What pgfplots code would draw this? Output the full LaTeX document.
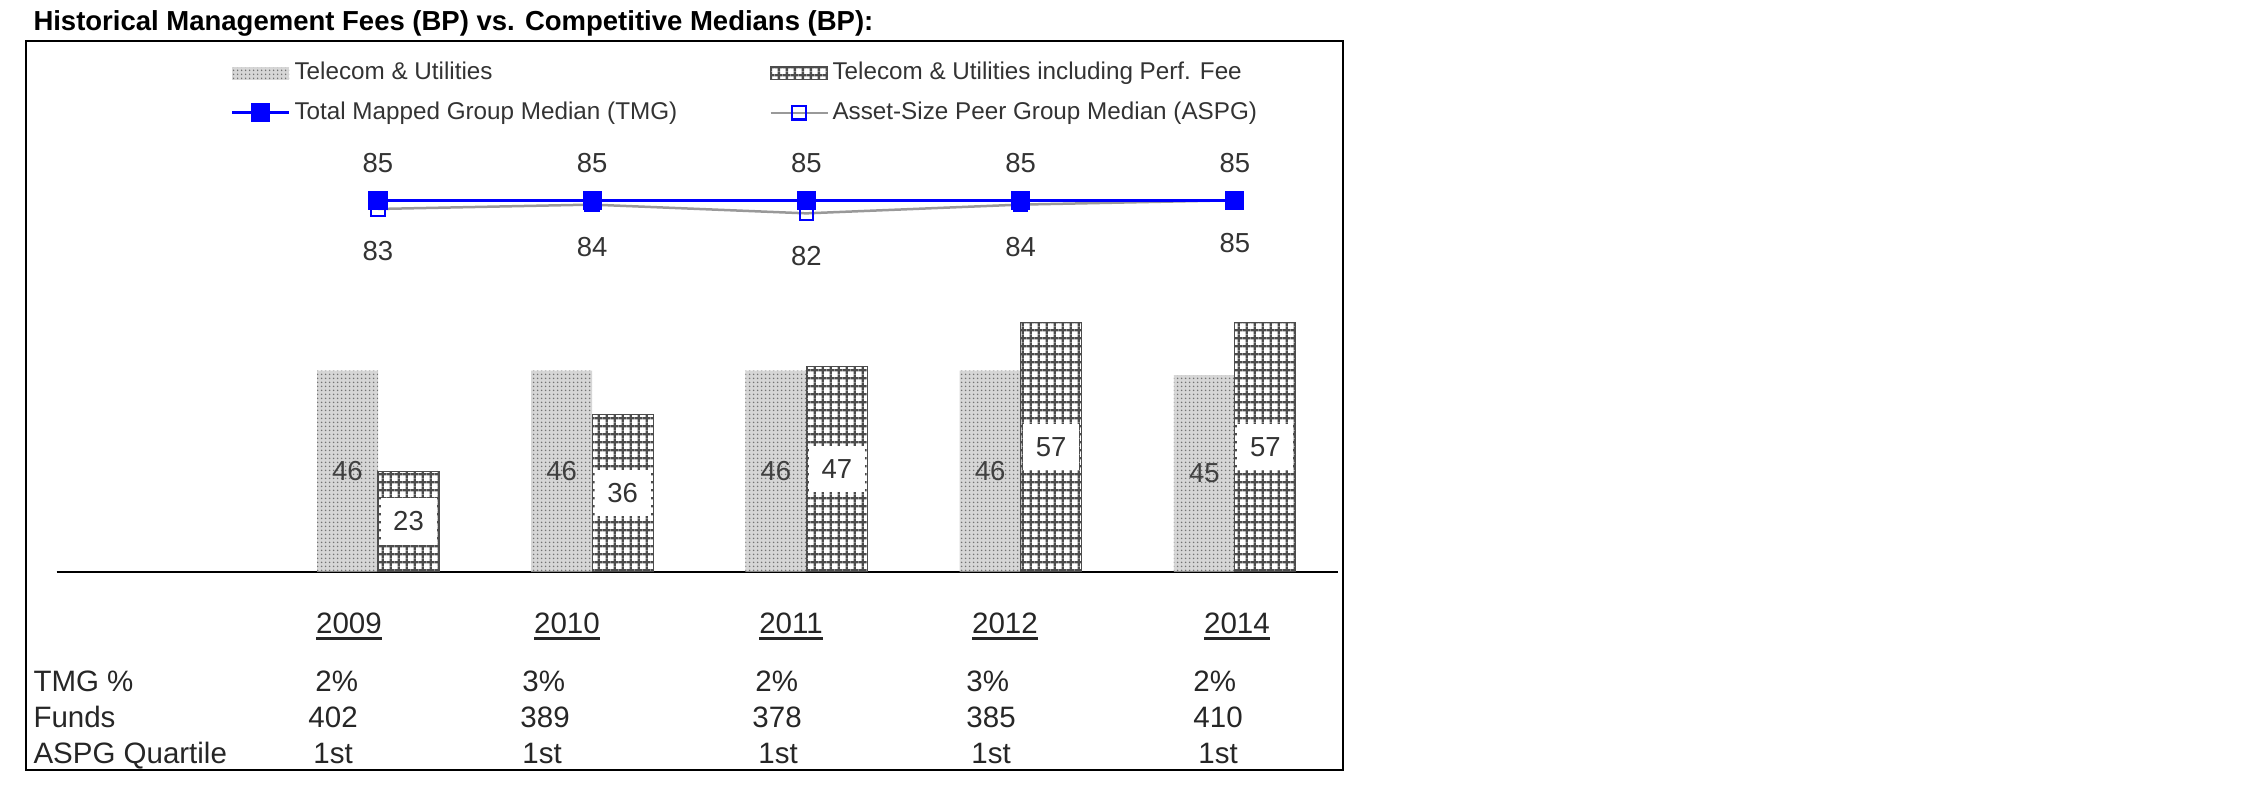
\documentclass[border=0pt]{standalone}
\usepackage{pgfplots}
\pgfplotsset{compat=1.18}
\usepackage{pgfplotstable}
\usepackage{fontspec}
\setmainfont{Liberation Sans}
\usetikzlibrary{patterns.meta}
\definecolor{txt}{HTML}{333333}
\definecolor{tmgblue}{HTML}{0000FF}
\tikzdeclarepattern{
  name=fdots,
  type=uncolored,
  bottom left={(0pt,0pt)},
  top right={(1.6pt,1.6pt)},
  tile size={(1.6pt,1.6pt)},
  code={\fill (0.8pt,0.8pt) circle (0.4pt);}
}
\tikzdeclarepattern{
  name=fgrid,
  type=uncolored,
  bottom left={(0pt,0pt)},
  top right={(3.3pt,3.3pt)},
  tile size={(3.3pt,3.3pt)},
  code={\fill (0pt,1.15pt) rectangle (3.3pt,2.15pt); \fill (1.15pt,0pt) rectangle (2.15pt,3.3pt);}
}
\pgfplotsset{
  barleg/.style={legend image code/.code={\path[##1] (0pt,-2.5pt) rectangle (22.8pt,2.5pt);}},
  lineleg/.style={legend image code/.code={\draw[mark repeat=2,mark phase=2,##1] plot coordinates {(0pt,0pt) (11.4pt,0pt) (22.8pt,0pt)};}},
}
\pgfplotstableread{
x tu perf tmg aspg
0 46 23 85 83
1 46 36 85 84
2 46 47 85 82
3 46 57 85 84
4 45 57 85 85
}\feetable
\newcommand\ul[1]{\leavevmode\setbox0=\hbox{#1}\rlap{\vrule width \wd0 height -1.4pt depth 2.8pt}\box0}
\newcommand\tabfont{\fontsize{11.8}{14}\selectfont}
\begin{document}
\begin{tikzpicture}
\useasboundingbox (0,0) rectangle (900pt,318.4pt);
\begin{axis}[
  anchor=south west, at={(22.68pt,89.72pt)},
  x=85.68pt, y=1.748pt,
  xmin=-1.5, xmax=4.48, ymin=0, ymax=100,
  axis x line=bottom, axis y line=none,
  axis line style={-, line width=0.7pt, black},
  xtick=\empty, ytick=\empty,
  clip=false,
  legend columns=2,
  legend style={
    at={(axis description cs:0.1353,1.176)}, anchor=north west,
    draw=none, fill=none, inner sep=0pt,
    font=\fontsize{9.7}{11}\selectfont, text=txt,
    legend cell align=left,
    row sep=3.8pt,
    nodes={inner sep=1.5pt, text height=7pt, text depth=2pt},
  },
]
\addplot[ybar, bar width=24.4pt, bar shift=-12.2pt, draw=none, fill=gray!32,
  postaction={pattern=fdots, pattern color=black!55}, barleg]
  table[x=x,y=tu]{\feetable};
\addplot[ybar, bar width=24.4pt, bar shift=12.2pt, draw=black!70, line width=0.5pt, fill=white,
  postaction={pattern=fgrid, pattern color=black!70}, barleg]
  table[x=x,y=perf]{\feetable};
\addplot[color=tmgblue, line width=1.3pt, mark=square*, mark size=3.2pt, mark options={solid},
  nodes near coords, point meta=explicit symbolic,
  nodes near coords style={anchor=center, yshift=15pt, text=txt, font=\fontsize{11}{13}\selectfont},
  lineleg]
  table[x=x,y=tmg,meta=tmg]{\feetable};
\addplot[color=gray!80, line width=1pt, mark=square, mark size=2.7pt,
  mark options={solid, draw=tmgblue, fill=white, line width=0.9pt},
  nodes near coords, point meta=explicit symbolic,
  nodes near coords style={anchor=center, yshift=-17pt, text=txt, font=\fontsize{11}{13}\selectfont},
  lineleg]
  table[x=x,y=aspg,meta=aspg]{\feetable};
\addplot[forget plot, color=tmgblue, line width=1.3pt, mark=square*, mark size=3.2pt]
  table[x=x,y=tmg]{\feetable};
% bar value labels
\addplot[forget plot, only marks, mark=none, nodes near coords, point meta=explicit symbolic,
  nodes near coords style={anchor=center, text=black!75, font=\fontsize{11}{13}\selectfont}]
  table[x expr=\thisrow{x}-0.1424, y expr=\thisrow{tu}/2, meta=tu]{\feetable};
\addplot[forget plot, only marks, mark=none, nodes near coords, point meta=explicit symbolic,
  nodes near coords style={anchor=center, fill=white, inner sep=0pt, minimum width=22.4pt, minimum height=18.6pt, text=txt, font=\fontsize{11}{13}\selectfont}]
  table[x expr=\thisrow{x}+0.1424, y expr=\thisrow{perf}/2, meta=perf]{\feetable};
\legend{\makebox[188.4pt][l]{Telecom \& Utilities}, Telecom \& Utilities including Perf. Fee, \makebox[188.4pt][l]{Total Mapped Group Median (TMG)}, Asset-Size Peer Group Median (ASPG)}
\end{axis}
\begin{scope}[x=0.4pt,y=-0.4pt,shift={(0pt,318.4pt)}]
\draw[line width=0.7pt] (26,41) rectangle (1343,770);
\node[anchor=base west, inner sep=0pt, font=\fontsize{11}{13}\selectfont\bfseries] at (33,31) {Historical Management Fees (BP) vs. Competitive Medians (BP):};
\foreach \xx/\yy in {349/2009, 567/2010, 791/2011, 1005/2012, 1237/2014}
  \node[anchor=base, inner sep=0pt, font=\tabfont, text=black!85] at (\xx,633.5) {\ul{\yy}};
\node[anchor=base west, inner sep=0pt, font=\tabfont, text=black!85] at (33,691.5) {TMG \%};
\node[anchor=base west, inner sep=0pt, font=\tabfont, text=black!85] at (33,727.5) {Funds};
\node[anchor=base west, inner sep=0pt, font=\tabfont, text=black!85] at (33,763.5) {ASPG Quartile};
\foreach \xx/\vv in {315/2, 522/3, 755/2, 966/3, 1193/2}
  \node[anchor=base west, inner sep=0pt, font=\tabfont, text=black!85] at (\xx,691.5) {\vv\%};
\foreach \xx/\vv in {308/402, 520/389, 752/378, 966/385, 1193/410}
  \node[anchor=base west, inner sep=0pt, font=\tabfont, text=black!85] at (\xx,727.5) {\vv};
\foreach \xx in {313, 522, 758, 971, 1198}
  \node[anchor=base west, inner sep=0pt, font=\tabfont, text=black!85] at (\xx,763.5) {1st};
\end{scope}
\end{tikzpicture}
\end{document}
